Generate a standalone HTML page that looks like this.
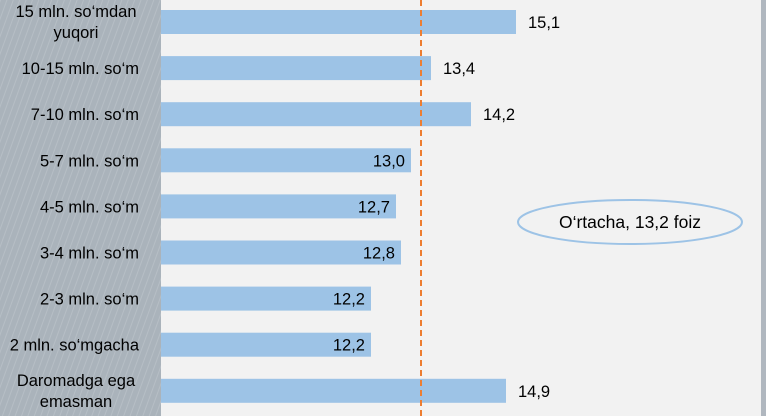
<!DOCTYPE html>
<html><head><meta charset="utf-8"><style>
html,body{margin:0;padding:0;background:#f2f2f2;}
svg{display:block;font-family:"Liberation Sans",sans-serif;}
</style></head><body>
<svg id="chart" width="766" height="416">
<defs>
<pattern id="hatch" width="6" height="6" patternUnits="userSpaceOnUse" patternTransform="rotate(20)">
<rect width="6" height="6" fill="#aab3bb"/>
<line x1="0" y1="0" x2="0" y2="6" stroke="#b6bec5" stroke-width="2"/>
</pattern>
</defs>
<rect x="0" y="0" width="766" height="416" fill="#f2f2f2"/>
<rect x="0" y="0" width="161" height="416" fill="url(#hatch)"/>
<rect x="761" y="0" width="5" height="416" fill="#b0b7bf"/>
<g id="bars"></g>
<line id="avgline" y1="0" y2="416" stroke="#ed7d31" stroke-width="2" stroke-dasharray="6,4"/>
<ellipse cx="630" cy="222" rx="112" ry="22" fill="#f2f2f2" stroke="#9dc3e6" stroke-width="2"/>
<text x="630" y="228" font-size="17.5" text-anchor="middle" fill="#000">O‘rtacha, 13,2 foiz</text>
</svg>
<script>
const categories=[["15 mln. so‘mdan","yuqori"],["10-15 mln. so‘m"],["7-10 mln. so‘m"],["5-7 mln. so‘m"],["4-5 mln. so‘m"],["3-4 mln. so‘m"],["2-3 mln. so‘m"],["2 mln. so‘mgacha"],["Daromadga ega","emasman"]];
const values=[15.1,13.4,14.2,13.0,12.7,12.8,12.2,12.2,14.9];
const valueLabels=["15,1","13,4","14,2","13,0","12,7","12,8","12,2","12,2","14,9"];
const outside=[true,true,true,false,false,false,false,false,true];
const average=13.2;
const xMin=8;
const NS="http://www.w3.org/2000/svg";
function x(v){return 161+(v-xMin)*50;}
function yc(i){return 22+i*46.1;}
const g=document.getElementById('bars');
function mk(t,a){const e=document.createElementNS(NS,t);for(const k in a)e.setAttribute(k,a[k]);return e;}
values.forEach((v,i)=>{
  const r=mk('rect',{x:161,y:yc(i)-12,width:x(v)-161,height:24,fill:'#9dc3e6'});
  
  
  g.appendChild(r);
  const t=mk('text',{x:outside[i]?x(v)+12:x(v)-6,y:yc(i)+6,'font-size':16.5,'text-anchor':outside[i]?'start':'end',fill:'#000'});
  
  
  t.textContent=valueLabels[i];g.appendChild(t);
  const lines=categories[i];
  lines.forEach((s,j)=>{
    const two=lines.length>1;
    const c=mk('text',{x:two?76:139,y:two?yc(i)-5+j*21:yc(i)+6,'font-size':16.5,'text-anchor':two?'middle':'end',fill:'#000'});
    
    
    c.textContent=s;g.appendChild(c);
  });
});
const al=document.getElementById('avgline');
al.setAttribute('x1',x(average));al.setAttribute('x2',x(average));
</script>
</body></html>
